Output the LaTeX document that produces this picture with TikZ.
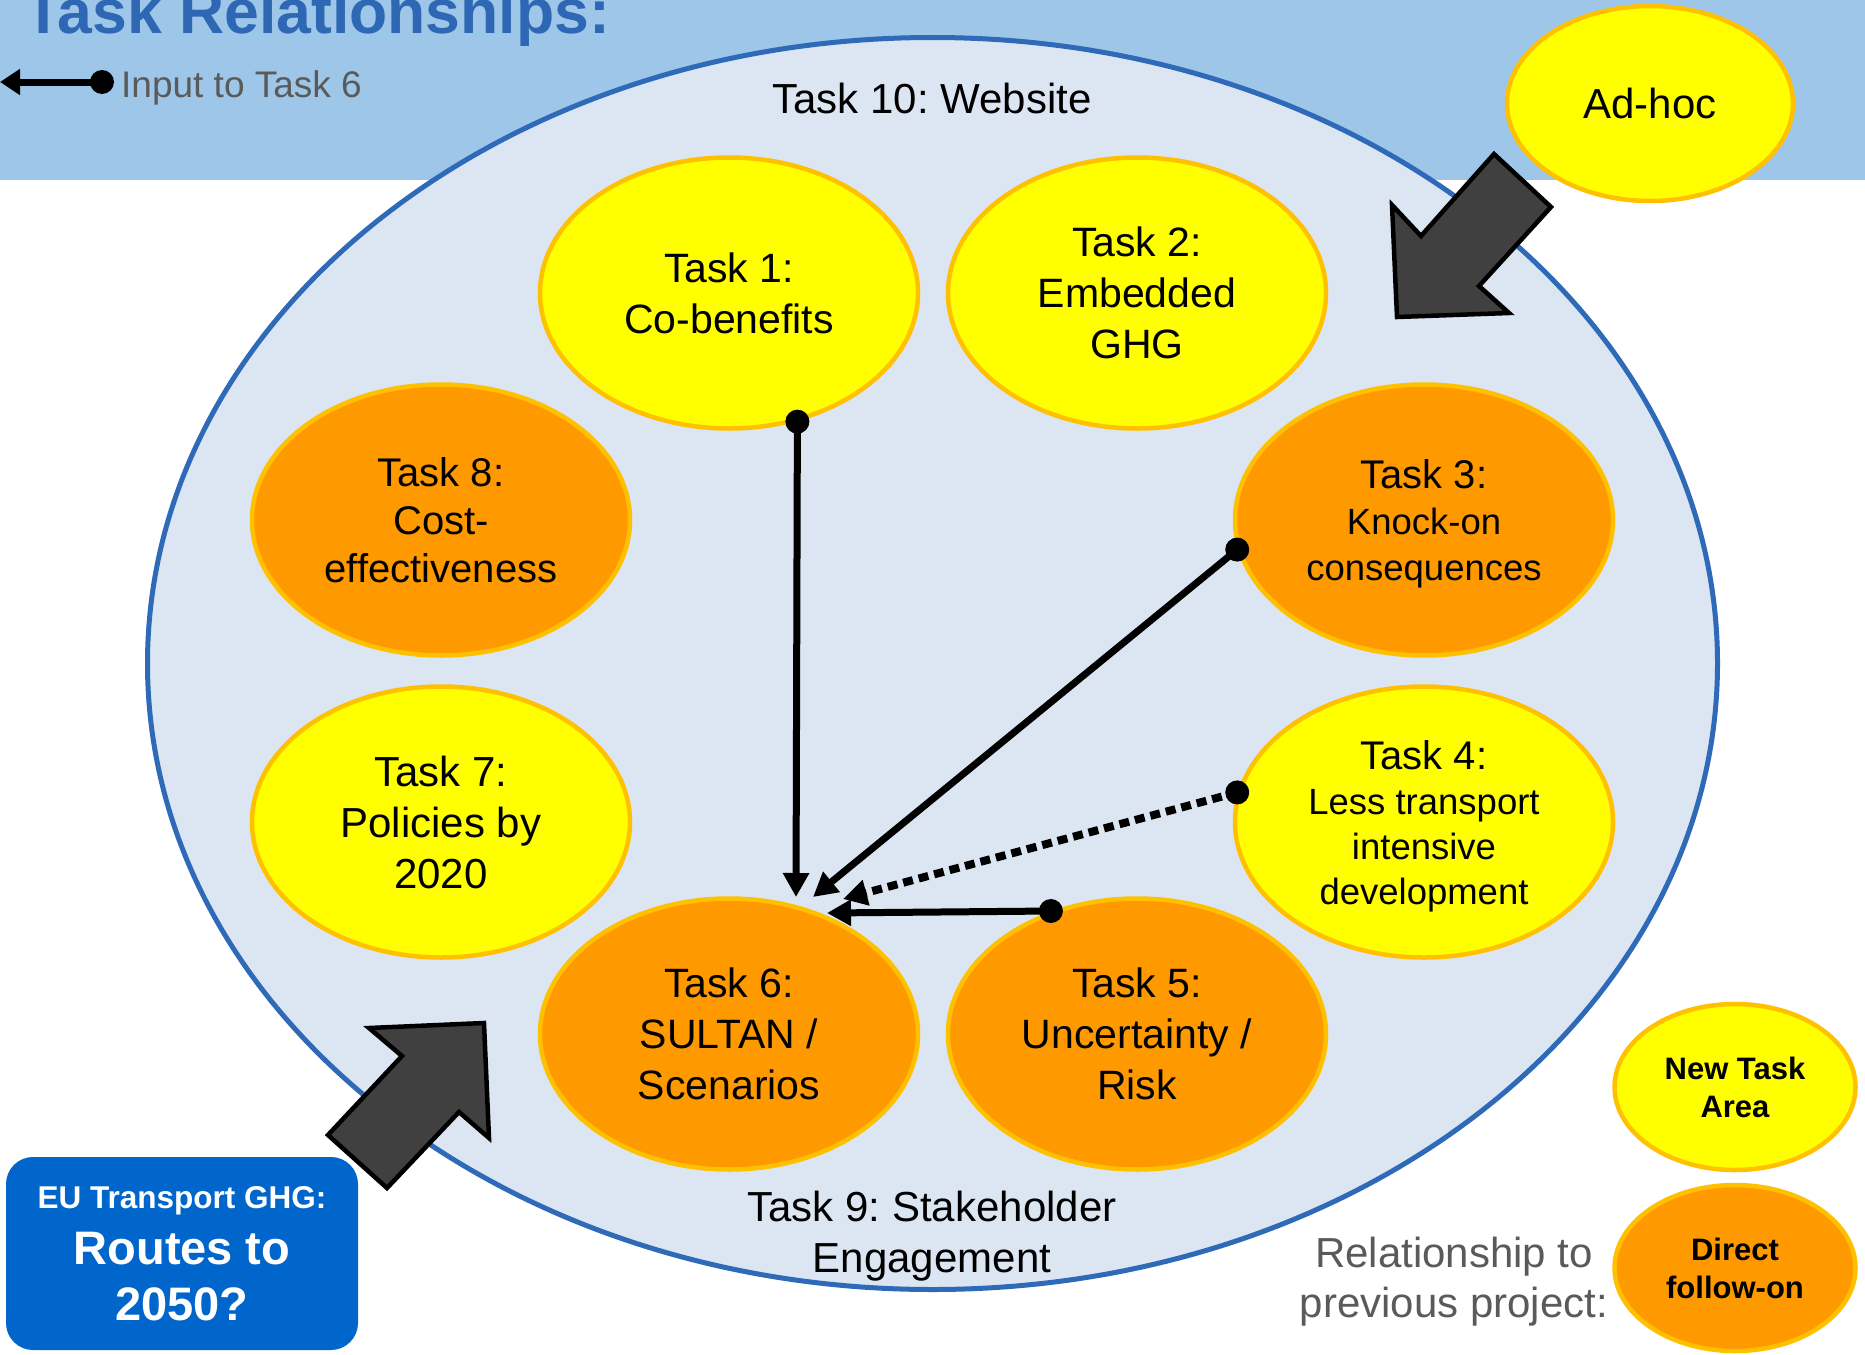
\documentclass[tikz,border=0pt]{standalone}
\usepackage{fontspec}
\setmainfont{Liberation Sans}
\usetikzlibrary{shapes.geometric,arrows.meta}
\definecolor{hdrblue}{HTML}{9DC6E9}
\definecolor{ringblue}{HTML}{2E6AB7}
\definecolor{ringfill}{HTML}{DCE6F2}
\definecolor{titleblue}{HTML}{2E68B4}
\definecolor{tyellow}{HTML}{FFFF00}
\definecolor{torange}{HTML}{FF9900}
\definecolor{tborder}{HTML}{FFC000}
\definecolor{arrowgray}{HTML}{404040}
\definecolor{eublue}{HTML}{0066CC}
\definecolor{labelgray}{HTML}{5A5A5A}
\frenchspacing
\begin{document}
\begin{tikzpicture}[x=1pt,y=-1pt,
  taskbox/.style={ellipse, draw=tborder, line width=4.5pt, minimum width=378pt, minimum height=271pt, inner sep=0pt, align=center, font=\fontsize{41}{51}\selectfont},
  newtask/.style={taskbox, fill=tyellow},
  followon/.style={taskbox, fill=torange},
  conn/.style={line width=7pt, -{Triangle[width=25pt,length=24pt]}},
  dotconn/.style={conn, line width=8pt, dash pattern=on 10pt off 6pt},
  enddot/.style={fill=black},
  blockarrow/.style={fill=arrowgray, draw=black, line width=4.5pt, line join=miter},
  legendtask/.style={ellipse, draw=tborder, line width=4.5pt, minimum width=241pt, minimum height=166pt, inner sep=0pt, align=center, font=\bfseries\fontsize{31}{38}\selectfont},
  plain/.style={inner sep=0pt, align=center, font=\fontsize{42}{51}\selectfont}
]
\useasboundingbox (0,0) rectangle (1865,1354);
% header band and title
\fill[hdrblue] (0,0) rectangle (1865,180);
\node[anchor=base west, inner sep=0pt, text=titleblue, font=\bfseries\fontsize{62.5}{70}\selectfont] (title) at (24,34) {Task Relationships:};
% legend arrow
\coordinate (legdot) at (102,82);
\coordinate (legtip) at (0,82);
\draw[line width=7pt, -{Triangle[width=25pt,length=20pt]}] (legdot) -- (legtip);
\fill[enddot] (legdot) circle (12pt);
\node[anchor=base west, inner sep=0pt, text=labelgray, font=\fontsize{37}{44}\selectfont] (leglabel) at (121,97) {Input to Task 6};
% big ring
\node[ellipse, draw=ringblue, fill=ringfill, line width=5pt, minimum width=1570pt, minimum height=1252pt, inner sep=0pt] (ring) at (932.5,663.5) {};
\node[plain, anchor=base] (t10) at (932,113) {Task 10: Website};
\node[plain] (t9) at (932,1236) {Task 9: Stakeholder\\Engagement};
% ad-hoc
\node[ellipse, draw=tborder, fill=tyellow, line width=4.5pt, minimum width=286pt, minimum height=195pt, inner sep=0pt, font=\fontsize{42}{51}\selectfont] (adhoc) at (1650,103.5) {Ad-hoc};
% block arrows
\draw[blockarrow] (1494,154) -- (1551,207) -- (1479,286) -- (1509,313) -- (1397,317) -- (1392,205) -- (1421,236) -- cycle;
\draw[blockarrow] (328,1135) -- (387,1188) -- (459,1112) -- (489,1138) -- (484,1023) -- (369,1028) -- (402,1056) -- cycle;
% tasks
\node[newtask] (t1) at (729,293) {Task 1:\\Co-benefits};
\node[newtask] (t2) at (1137,293) {Task 2:\\Embedded\\GHG};
\node[followon, font=\fontsize{36.5}{46}\selectfont] (t3) at (1424,520) {{\fontsize{40}{46}\selectfont Task 3:}\\Knock-on\\\smash{consequences}};
\node[newtask, font=\fontsize{36.5}{45}\selectfont] (t4) at (1424,822) {{\fontsize{40}{45}\selectfont Task 4:}\\Less transport\\intensive\\\smash{development}};
\node[followon] (t5) at (1137,1034) {Task 5:\\Uncertainty /\\Risk};
\node[followon] (t6) at (729,1034) {Task 6:\\SULTAN /\\Scenarios};
\node[newtask, font=\fontsize{42}{51}\selectfont] (t7) at (441,822) {Task 7:\\Policies by\\2020};
\node[followon, font=\fontsize{40}{48}\selectfont] (t8) at (441,520) {Task 8:\\Cost-\\effectiveness};
% connectors into task 6
\coordinate (e1) at (796,897);
\coordinate (e3) at (813,897);
\coordinate (e4) at (843,899);
\coordinate (e5) at (827,913);
\draw[conn] (t1.-62.4) -- (e1);
\draw[conn] (t3.189) -- (e3);
\draw[dotconn] (t4.171.5) -- (e4);
\draw[conn] (t5.125) -- (e5);
\fill[enddot] (t1.-62.4) circle (12pt);
\fill[enddot] (t3.189) circle (12pt);
\fill[enddot] (t4.171.5) circle (12pt);
\fill[enddot] (t5.125) circle (12pt);
% EU box
\node[rounded corners=27pt, fill=eublue, minimum width=352pt, minimum height=193pt, inner sep=0pt, text=white, align=center, font=\bfseries\fontsize{47}{56}\selectfont] (eu) at (182,1253.5) {{\fontsize{31.5}{56}\selectfont EU Transport GHG:}\\Routes to\\2050?};
% legend
\node[legendtask, fill=tyellow] (lnew) at (1735,1087) {New Task\\Area};
\node[legendtask, fill=torange] (lfollow) at (1735,1268) {Direct\\follow-on};
\node[inner sep=0pt, align=center, text=labelgray, font=\fontsize{42}{50}\selectfont] (relab) at (1454,1281.5) {Relationship to\\previous project:};
\end{tikzpicture}
\end{document}
